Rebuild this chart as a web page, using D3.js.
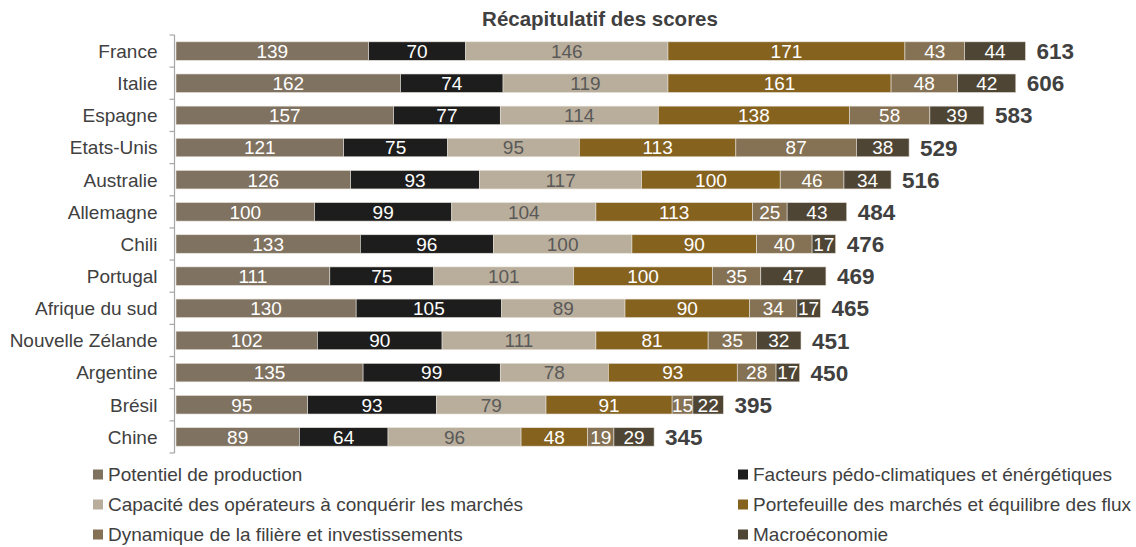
<!DOCTYPE html>
<html>
<head>
<meta charset="utf-8">
<script src="https://cdn.jsdelivr.net/npm/d3@7"></script>
<style>
  body { margin: 0; background: #fff; }
  svg text { font-family: "Liberation Sans", Arial, sans-serif; }
  .cat-label { font-size: 19px; fill: #404040; }
  .val-label { font-size: 19px; }
  .total-label { font-size: 22.5px; font-weight: bold; fill: #404040; }
  .legend-label { font-size: 19px; fill: #404040; }
</style>
</head>
<body>
<svg width="1136" height="547"></svg>
<script>
const countries = ["France", "Italie", "Espagne", "Etats-Unis", "Australie", "Allemagne", "Chili",
  "Portugal", "Afrique du sud", "Nouvelle Zélande", "Argentine", "Brésil", "Chine"];

const seriesNames = ["Potentiel de production", "Facteurs pédo-climatiques et énérgétiques",
  "Capacité des opérateurs à conquérir les marchés", "Portefeuille des marchés et équilibre des flux",
  "Dynamique de la filière et investissements", "Macroéconomie"];

const potentiel   = [139, 162, 157, 121, 126, 100, 133, 111, 130, 102, 135, 95, 89];
const facteurs    = [70, 74, 77, 75, 93, 99, 96, 75, 105, 90, 99, 93, 64];
const capacite    = [146, 119, 114, 95, 117, 104, 100, 101, 89, 111, 78, 79, 96];
const portefeuille = [171, 161, 138, 113, 100, 113, 90, 100, 90, 81, 93, 91, 48];
const dynamique   = [43, 48, 58, 87, 46, 25, 40, 35, 34, 35, 28, 15, 19];
const macro       = [44, 42, 39, 38, 34, 43, 17, 47, 17, 32, 17, 22, 29];

const seriesColors = ["#7f7260", "#1d1d1d", "#b9ae9b", "#86621f", "#857153", "#4e4535"];
const labelColors = ["#fff", "#fff", "#595959", "#fff", "#fff", "#fff"];

const keys = ["potentiel", "facteurs", "capacite", "portefeuille", "dynamique", "macro"];
const cols = [potentiel, facteurs, capacite, portefeuille, dynamique, macro];

// one row per country for d3.stack()
const rows = countries.map((c, i) => {
    let r = {country: c};
    keys.forEach((k, j) => r[k] = cols[j][i]);
    r.total = d3.sum(cols, s => s[i]);
    return r;
});

const margin = {left: 176, top: 35, bottom: 453};
const svg = d3.select("svg");

const xScale = d3.scaleLinear()
    .domain([0, 613])
    .range([margin.left, 1025.5]);

const yScale = d3.scaleBand()
    .domain(countries)
    .range([margin.top, margin.bottom])
    .paddingInner(0.425)
    .paddingOuter(0.2125);

const colorScale = d3.scaleOrdinal().domain(keys).range(seriesColors);
const textColor = d3.scaleOrdinal().domain(keys).range(labelColors);

const stacked = d3.stack().keys(keys)(rows);

//title
svg.append("text")
    .attr("x", 600)
    .attr("y", 26)
    .attr("text-anchor", "middle")
    .attr("font-size", "20.5px")
    .attr("font-weight", "bold")
    .attr("fill", "#404040")
    .text("Récapitulatif des scores");

const layers = svg.selectAll("g.layer")
    .data(stacked).join("g")
    .attr("class", "layer");

layers.selectAll("rect")
    .data(d => d.map(p => ({key: d.key, p: p})))
    .join("rect")
    .attr("x", d => xScale(d.p[0]))
    .attr("y", d => yScale(d.p.data.country))
    .attr("width", d => xScale(d.p[1]) - xScale(d.p[0]))
    .attr("height", yScale.bandwidth())
    .attr("fill", d => colorScale(d.key))
    .attr("stroke", "#e4e0d8")
    .attr("stroke-width", 0.6);

layers.selectAll("text")
    .data(d => d.map(p => ({key: d.key, p: p})))
    .join("text")
    .attr("class", "val-label")
    .attr("x", d => (xScale(d.p[0]) + xScale(d.p[1])) / 2)
    .attr("y", d => yScale(d.p.data.country) + yScale.bandwidth() / 2)
    .attr("dy", "0.36em")
    .attr("text-anchor", "middle")
    .attr("fill", d => textColor(d.key))
    .text(d => d.p[1] - d.p[0]);

//totals at the bar end
svg.selectAll("text.total-label")
    .data(rows).join("text")
    .attr("class", "total-label")
    .attr("x", d => xScale(d.total) + 11)
    .attr("y", d => yScale(d.country) + yScale.bandwidth() / 2)
    .attr("dy", "0.36em")
    .text(d => d.total);

//category axis
const axisG = svg.append("g")
    .attr("transform", `translate(${margin.left - 1.5},0)`);

axisG.append("line")
    .attr("x1", 0).attr("x2", 0)
    .attr("y1", margin.top).attr("y2", margin.bottom)
    .attr("stroke", "#a6a6a6")
    .attr("stroke-width", 1.2);

// tick marks between the categories
const step = yScale.step();
axisG.selectAll("line.tick")
    .data(d3.range(countries.length + 1)).join("line")
    .attr("class", "tick")
    .attr("x1", -5).attr("x2", 0)
    .attr("y1", i => margin.top + i * step)
    .attr("y2", i => margin.top + i * step)
    .attr("stroke", "#a6a6a6")
    .attr("stroke-width", 1.2);

axisG.selectAll("text.cat-label")
    .data(countries).join("text")
    .attr("class", "cat-label")
    .attr("x", -17)
    .attr("y", d => yScale(d) + yScale.bandwidth() / 2)
    .attr("dy", "0.36em")
    .attr("text-anchor", "end")
    .text(d => d);

//legend, two columns
const legend = svg.append("g");
const legItems = legend.selectAll("g")
    .data(seriesNames).join("g")
    .attr("transform", (d, i) => `translate(${i % 2 == 0 ? 93 : 738}, ${474.5 + Math.floor(i / 2) * 30})`);

legItems.append("rect")
    .attr("x", 0).attr("y", -5)
    .attr("width", 10).attr("height", 10)
    .attr("fill", (d, i) => seriesColors[i]);

legItems.append("text")
    .attr("class", "legend-label")
    .attr("x", 15)
    .attr("dy", "0.36em")
    .text(d => d);
</script>
</body>
</html>
